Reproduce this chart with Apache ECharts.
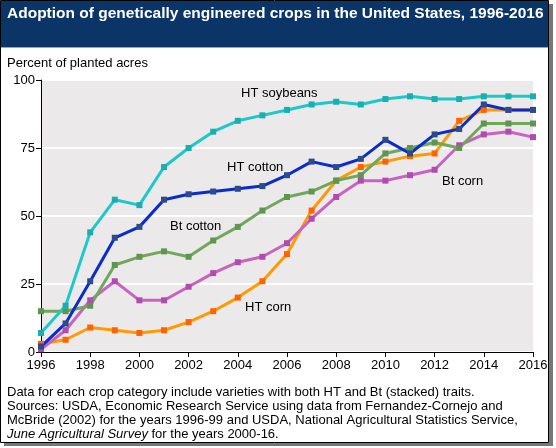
<!DOCTYPE html>
<html>
<head>
<meta charset="utf-8">
<script src="https://cdn.jsdelivr.net/npm/echarts@6/dist/echarts.min.js"></script>
<style>
html,body{margin:0;padding:0;background:#fff;}
#chart{width:556px;height:448px;}
</style>
</head>
<body>
<div id="chart"></div>
<script>
const years = [1996,1997,1998,1999,2000,2001,2002,2003,2004,2005,2006,2007,2008,2009,2010,2011,2012,2013,2014,2015,2016];
const htSoybeans = [7,17,44,56,54,68,75,81,85,87,89,91,92,91,93,94,93,93,94,94,94];
const htCotton   = [2,10.5,26,42,46,56,58,59,60,61,65,70,68,71,78,73,80,82,91,89,89];
const btCotton   = [15,15,17,32,35,37,35,41,46,52,57,59,63,65,73,75,77,75,84,84,84];
const btCorn     = [1,8,19,26,19,19,24,29,33,35,40,49,57,63,63,65,67,76,80,81,79];
const htCorn     = [3,4.5,9,8,7,8,11,15,20,26,36,52,63,68,70,72,73,85,89,89,89];
const yTicks = [0,25,50,75,100];

const FONT = '"Liberation Sans", Arial, sans-serif';

function mk(name, data, lineColor, markColor) {
  return {
    name: name,
    type: 'line',
    data: years.map((y, i) => [y, data[i]]),
    symbol: 'rect',
    symbolSize: 6,
    lineStyle: { color: lineColor, width: 3 },
    itemStyle: { color: markColor },
    animation: false,
    z: 3
  };
}

const chart = echarts.init(document.getElementById('chart'), null, { renderer: 'canvas' });
chart.setOption({
  animation: false,
  backgroundColor: '#fff',
  textStyle: { fontFamily: FONT },
  grid: { left: 41, right: 23, top: 80, bottom: 96, show: true, backgroundColor: '#EBE9EA', borderWidth: 0 },
  xAxis: {
    type: 'value', min: 1996, max: 2016, interval: 2,
    axisLine: { show: true, lineStyle: { color: '#000', width: 1 } },
    axisTick: { show: true, length: 5, lineStyle: { color: '#000' } },
    axisLabel: { color: '#000', fontSize: 13, fontFamily: FONT, margin: 7, formatter: v => String(v) },
    splitLine: { show: false }
  },
  yAxis: {
    type: 'value', min: 0, max: 100, interval: 25,
    axisLine: { show: true, lineStyle: { color: '#000', width: 1 } },
    axisTick: { show: true, length: 5, lineStyle: { color: '#000' } },
    axisLabel: { color: '#000', fontSize: 13, fontFamily: FONT, margin: 6, formatter: v => yTicks.includes(v) ? String(v) : '' },
    splitLine: { show: true, lineStyle: { color: '#fff', width: 2 } }
  },
  series: [
    mk('HT corn', htCorn, '#FF9A00', '#FF6400'),
    mk('Bt corn', btCorn, '#C864C0', '#B04CAE'),
    mk('Bt cotton', btCotton, '#6FA85A', '#5E9650'),
    mk('HT cotton', htCotton, '#0A2CCB', '#2D4A8A'),
    mk('HT soybeans', htSoybeans, '#1EC8C8', '#17B0B0')
  ],
  graphic: [
    { type: 'rect', shape: { x: 0.5, y: 0.5, width: 548, height: 442 }, style: { fill: 'none', stroke: '#000', lineWidth: 1 }, z: 100 },
    { type: 'rect', shape: { x: 549, y: 4, width: 4, height: 442 }, style: { fill: '#777' }, z: 99 },
    { type: 'rect', shape: { x: 4, y: 443, width: 549, height: 3 }, style: { fill: '#777' }, z: 99 },
    { type: 'rect', shape: { x: 1, y: 1, width: 547, height: 46 }, style: { fill: '#0B3566' }, z: 50 },
    { type: 'rect', shape: { x: 1, y: 47, width: 547, height: 1 }, style: { fill: '#9AA6B8' }, z: 50 },
    { type: 'text', left: 7, top: 6, z: 60, style: { text: 'Adoption of genetically engineered crops in the United States, 1996-2016', fill: '#fff', font: 'bold 15.5px ' + FONT } },
    { type: 'text', left: 7, top: 57, z: 60, style: { text: 'Percent of planted acres', fill: '#000', font: '13px ' + FONT } },
    { type: 'text', left: 241, top: 87, z: 60, style: { text: 'HT soybeans', fill: '#000', font: '13px ' + FONT } },
    { type: 'text', left: 227, top: 161, z: 60, style: { text: 'HT cotton', fill: '#000', font: '13px ' + FONT } },
    { type: 'text', left: 170, top: 220, z: 60, style: { text: 'Bt cotton', fill: '#000', font: '13px ' + FONT } },
    { type: 'text', left: 442, top: 175, z: 60, style: { text: 'Bt corn', fill: '#000', font: '13px ' + FONT } },
    { type: 'text', left: 245, top: 301, z: 60, style: { text: 'HT corn', fill: '#000', font: '13px ' + FONT } },
    { type: 'text', left: 7, top: 385, z: 60, style: {
        text: 'Data for each crop category include varieties with both HT and Bt (stacked) traits.\nSources: USDA, Economic Research Service using data from Fernandez-Cornejo and\nMcBride (2002) for the years 1996-99 and USDA, National Agricultural Statistics Service,\n{i|June Agricultural Survey} for the years 2000-16.',
        fill: '#000', font: '13px ' + FONT, lineHeight: 14,
        rich: { i: { fontStyle: 'italic', fontSize: 13, fontFamily: FONT, lineHeight: 14, fill: '#000' } }
      } }
  ]
});
</script>
</body>
</html>
